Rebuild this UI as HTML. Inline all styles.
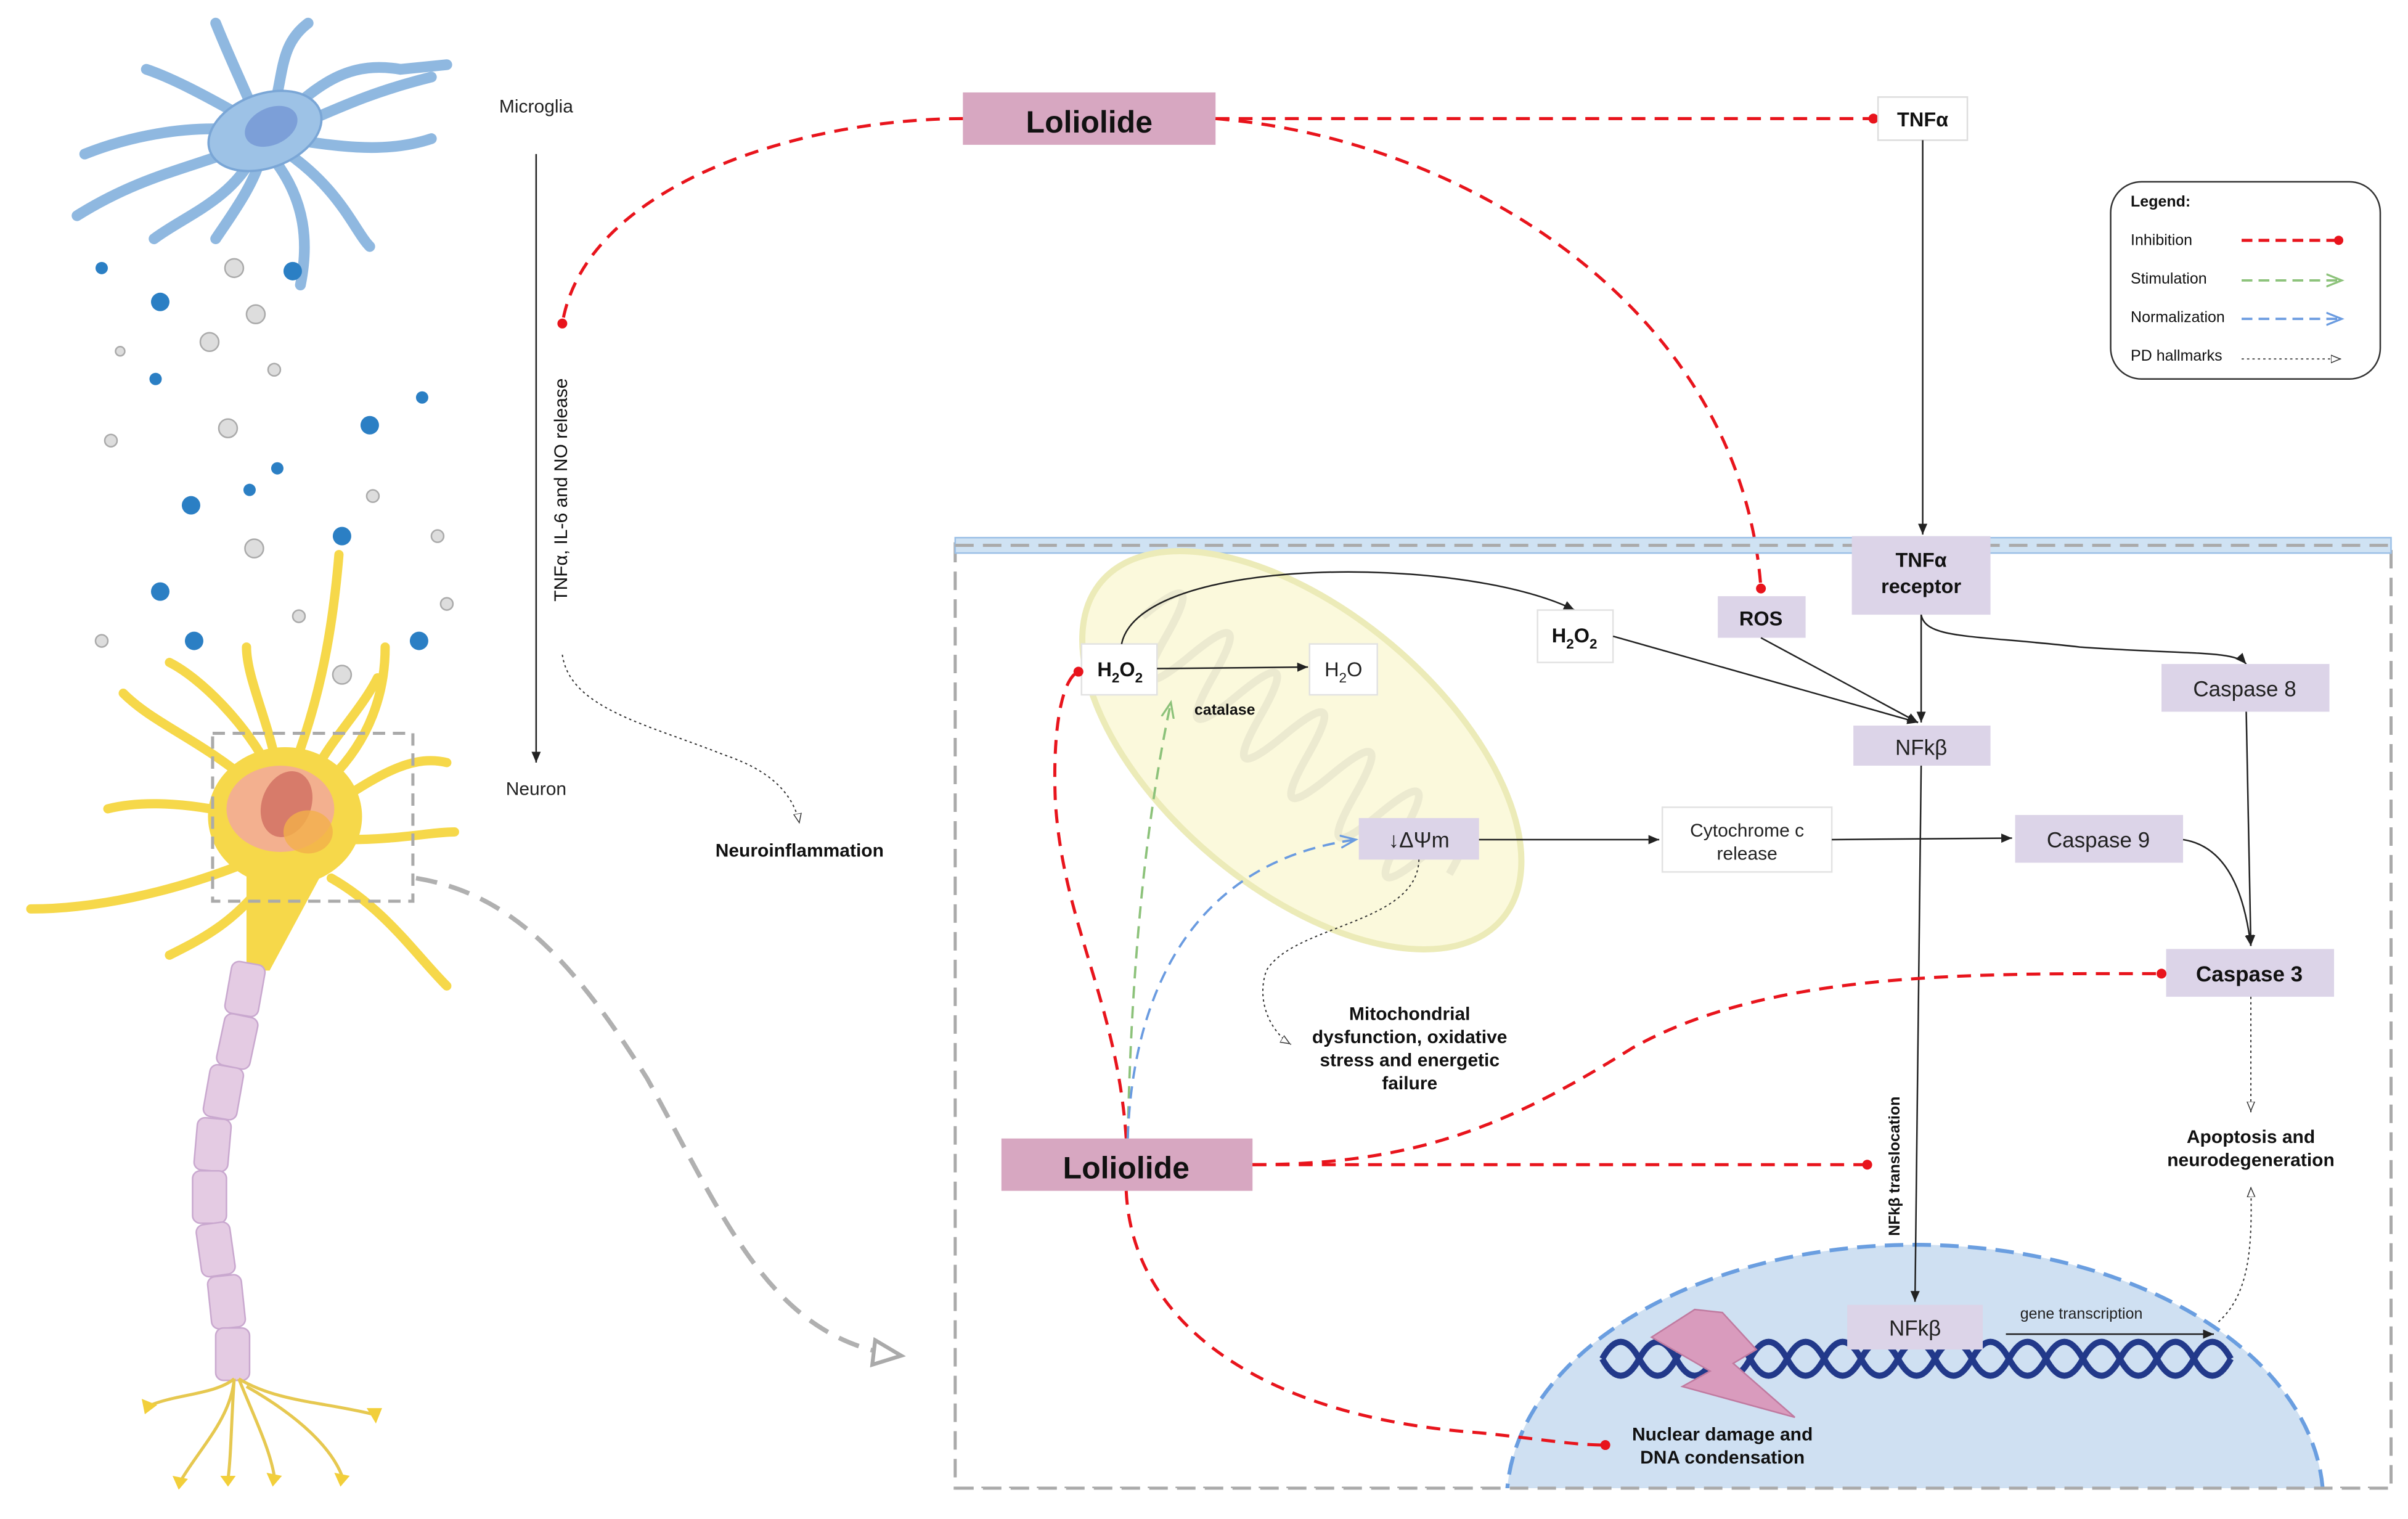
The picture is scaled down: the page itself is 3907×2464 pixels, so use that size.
<!DOCTYPE html>
<html><head><meta charset="utf-8"><style>
html,body{margin:0;padding:0;background:#fff;}
svg{display:block;}
text{font-family:"Liberation Sans",sans-serif;}
</style></head><body>
<svg width="3907" height="2464" viewBox="0 0 1563 986" preserveAspectRatio="none" xmlns="http://www.w3.org/2000/svg">
<defs>
<marker id="ab" markerWidth="8" markerHeight="8" refX="7" refY="4" orient="auto" markerUnits="userSpaceOnUse"><path d="M0,1 L7,4 L0,7 z" fill="#222"/></marker>
<marker id="ad" markerWidth="8" markerHeight="8" refX="7" refY="4" orient="auto" markerUnits="userSpaceOnUse"><path d="M0,1.5 L6,4 L0,6.5 z" fill="#fff" stroke="#333" stroke-width="0.6"/></marker>
<marker id="ag" markerWidth="12" markerHeight="10" refX="10" refY="5" orient="auto" markerUnits="userSpaceOnUse"><path d="M0,1 L10,5 L0,9" fill="none" stroke="#8cc27a" stroke-width="1.3"/></marker>
<marker id="abl" markerWidth="12" markerHeight="10" refX="10" refY="5" orient="auto" markerUnits="userSpaceOnUse"><path d="M0,1 L10,5 L0,9" fill="none" stroke="#6a9be0" stroke-width="1.3"/></marker>
<marker id="agr" markerWidth="24" markerHeight="20" refX="20" refY="10" orient="auto" markerUnits="userSpaceOnUse"><path d="M2,2 L20,10 L2,18 z" fill="#fff" stroke="#aaa" stroke-width="2.5"/></marker>
</defs>

<!-- Microglia -->
<g fill="none" stroke="#8fb8e0" stroke-linecap="round" stroke-linejoin="round">
<g stroke-width="7">
<path d="M170,85 C160,60 150,40 140,15"/><path d="M175,80 C185,50 180,30 200,15"/><path d="M180,80 C210,50 230,40 260,45 L290,42"/>
<path d="M185,85 C220,70 240,60 280,50"/><path d="M185,90 C220,95 250,100 280,90"/><path d="M180,95 C220,120 230,150 240,160"/>
<path d="M175,100 C200,130 200,160 195,185"/><path d="M165,100 C150,130 120,140 100,155"/><path d="M160,95 C120,110 90,115 50,140"/>
<path d="M160,85 C120,80 80,90 55,100"/><path d="M165,80 C130,60 110,50 95,45"/><path d="M170,100 C165,120 150,140 140,155"/>
</g>
</g>
<ellipse cx="172" cy="85" rx="38" ry="24" fill="#9dc2e6" stroke="#7aa6d6" stroke-width="1.5" transform="rotate(-20 172 85)"/>
<ellipse cx="176" cy="82" rx="18" ry="12" fill="#7c9fd8" transform="rotate(-25 176 82)"/>
<g>
<circle cx="104" cy="196" r="6" fill="#2b7fc4"/><circle cx="152" cy="174" r="6" fill="#ddd" stroke="#aaa"/><circle cx="190" cy="176" r="6" fill="#2b7fc4"/>
<circle cx="166" cy="204" r="6" fill="#ddd" stroke="#aaa"/><circle cx="136" cy="222" r="6" fill="#ddd" stroke="#aaa"/><circle cx="66" cy="174" r="4" fill="#2b7fc4"/>
<circle cx="101" cy="246" r="4" fill="#2b7fc4"/><circle cx="148" cy="278" r="6" fill="#ddd" stroke="#aaa"/><circle cx="240" cy="276" r="6" fill="#2b7fc4"/>
<circle cx="124" cy="328" r="6" fill="#2b7fc4"/><circle cx="162" cy="318" r="4" fill="#2b7fc4"/><circle cx="165" cy="356" r="6" fill="#ddd" stroke="#aaa"/>
<circle cx="222" cy="348" r="6" fill="#2b7fc4"/><circle cx="104" cy="384" r="6" fill="#2b7fc4"/><circle cx="126" cy="416" r="6" fill="#2b7fc4"/>
<circle cx="272" cy="416" r="6" fill="#2b7fc4"/><circle cx="222" cy="438" r="6" fill="#ddd" stroke="#aaa"/><circle cx="66" cy="416" r="4" fill="#ddd" stroke="#aaa"/>
<circle cx="78" cy="228" r="3" fill="#ddd" stroke="#aaa"/><circle cx="178" cy="240" r="4" fill="#ddd" stroke="#aaa"/><circle cx="72" cy="286" r="4" fill="#ddd" stroke="#aaa"/>
<circle cx="180" cy="304" r="4" fill="#2b7fc4"/><circle cx="242" cy="322" r="4" fill="#ddd" stroke="#aaa"/><circle cx="284" cy="348" r="4" fill="#ddd" stroke="#aaa"/>
<circle cx="290" cy="392" r="4" fill="#ddd" stroke="#aaa"/><circle cx="194" cy="400" r="4" fill="#ddd" stroke="#aaa"/><circle cx="274" cy="258" r="4" fill="#2b7fc4"/>
</g>
<!-- Neuron dendrites -->
<g fill="none" stroke="#f6d84a" stroke-linecap="round" stroke-linejoin="round" stroke-width="6">
<path d="M190,500 C205,460 215,420 220,360"/><path d="M175,500 C160,470 130,440 110,430"/><path d="M165,510 C130,480 100,470 80,450"/>
<path d="M160,530 C120,520 90,520 70,525"/><path d="M160,560 C110,580 60,590 20,590"/><path d="M215,505 C240,480 250,450 250,420"/>
<path d="M220,520 C250,500 270,490 290,495"/><path d="M225,545 C260,545 280,540 295,540"/><path d="M215,570 C250,590 270,620 290,640"/>
<path d="M180,500 C175,470 160,440 160,420"/><path d="M205,500 C215,480 235,460 245,440"/><path d="M170,575 C150,600 130,610 110,620"/>
</g>
<ellipse cx="185" cy="530" rx="50" ry="45" fill="#f6d84a"/>
<path d="M160,565 L210,565 L175,630 L160,630 Z" fill="#f6d84a"/>
<ellipse cx="182" cy="525" rx="35" ry="28" fill="#f2a6a0" opacity="0.8"/>
<ellipse cx="186" cy="522" rx="16" ry="22" fill="#d77b6a" transform="rotate(20 186 522)"/>
<ellipse cx="200" cy="540" rx="16" ry="14" fill="#f3b04a" opacity="0.8"/>
<rect x="138" y="476" width="130" height="109" fill="none" stroke="#aaa" stroke-width="2" stroke-dasharray="8 5"/>
<g fill="#e4cbe3" stroke="#c9a8cf" stroke-width="1">
<rect x="148" y="625" width="22" height="34" rx="5" transform="rotate(10 159 642)"/>
<rect x="143" y="659" width="22" height="34" rx="5" transform="rotate(12 154 676)"/>
<rect x="134" y="692" width="22" height="34" rx="5" transform="rotate(10 145 709)"/>
<rect x="127" y="726" width="22" height="34" rx="5" transform="rotate(5 138 743)"/>
<rect x="125" y="760" width="22" height="34" rx="5"/>
<rect x="129" y="794" width="22" height="34" rx="5" transform="rotate(-8 140 811)"/>
<rect x="136" y="828" width="22" height="34" rx="5" transform="rotate(-6 147 845)"/>
<rect x="140" y="862" width="22" height="34" rx="5"/>
</g>
<g stroke="#e6c850" stroke-width="2" fill="none">
<path d="M152,895 C140,905 115,905 98,912"/><path d="M152,895 C150,920 130,940 118,960"/><path d="M152,895 C150,925 150,945 148,960"/>
<path d="M155,895 C165,920 175,940 178,958"/><path d="M155,895 C180,910 210,910 242,918"/><path d="M160,900 C195,920 215,940 222,958"/>
</g>
<g fill="#f2cf3a"><path d="M92,908 l10,4 -8,6z"/><path d="M112,958 l10,2 -6,7z"/><path d="M143,958 l10,0 -5,7z"/><path d="M173,956 l10,2 -6,7z"/><path d="M238,914 l10,0 -4,10z"/><path d="M217,956 l10,2 -6,7z"/></g>

<!-- gray dashed curve -->
<path d="M270,570 C330,580 370,620 420,700 C470,790 500,870 585,880" fill="none" stroke="#b0b0b0" stroke-width="3" stroke-dasharray="14 8" marker-end="url(#agr)"/>

<!-- left labels -->
<text x="348" y="73" font-size="12" text-anchor="middle" fill="#222">Microglia</text>
<line x1="348" y1="100" x2="348" y2="495" stroke="#222" stroke-width="1" marker-end="url(#ab)"/>
<text x="348" y="516" font-size="12" text-anchor="middle" fill="#222">Neuron</text>
<text transform="translate(368,318) rotate(-90)" font-size="12" text-anchor="middle" fill="#111">TNFα, IL-6 and NO release</text>
<path d="M365,425 C370,460 420,470 470,490 C500,500 515,515 519,535" fill="none" stroke="#333" stroke-width="0.8" stroke-dasharray="1.5 2" marker-end="url(#ad)"/>
<text x="519" y="556" font-size="12" font-weight="bold" text-anchor="middle" fill="#111">Neuroinflammation</text>

<!-- top Loliolide -->
<rect x="625" y="60" width="164" height="34" fill="#d7a7c1"/>
<text x="707" y="86" font-size="20" font-weight="bold" text-anchor="middle" fill="#111">Loliolide</text>
<path d="M625,77 C520,77 380,120 365,210" fill="none" stroke="#e8141c" stroke-width="2" stroke-dasharray="9 6"/>
<circle cx="365" cy="210" r="3.2" fill="#e8141c"/>
<line x1="789" y1="77" x2="1216" y2="77" stroke="#e8141c" stroke-width="2" stroke-dasharray="9 6"/>
<circle cx="1216" cy="77" r="3.2" fill="#e8141c"/>
<path d="M789,77 C950,90 1130,200 1143,382" fill="none" stroke="#e8141c" stroke-width="2" stroke-dasharray="9 6"/>
<circle cx="1143" cy="382" r="3.2" fill="#e8141c"/>

<!-- TNFa -->
<rect x="1219" y="63" width="58" height="28" fill="#fff" stroke="#ddd"/>
<text x="1248" y="82" font-size="13" font-weight="bold" text-anchor="middle" fill="#111">TNFα</text>
<line x1="1248" y1="91" x2="1248" y2="347" stroke="#222" stroke-width="1" marker-end="url(#ab)"/>

<!-- legend -->
<rect x="1370" y="118" width="175" height="128" rx="20" fill="#fff" stroke="#333" stroke-width="1"/>
<text x="1383" y="134" font-size="10" font-weight="bold" fill="#111">Legend:</text>
<text x="1383" y="159" font-size="10" fill="#111">Inhibition</text>
<text x="1383" y="184" font-size="10" fill="#111">Stimulation</text>
<text x="1383" y="209" font-size="10" fill="#111">Normalization</text>
<text x="1383" y="234" font-size="10" fill="#111">PD hallmarks</text>
<line x1="1455" y1="156" x2="1516" y2="156" stroke="#e8141c" stroke-width="2" stroke-dasharray="7 4"/><circle cx="1518" cy="156" r="3" fill="#e8141c"/>
<line x1="1455" y1="182" x2="1520" y2="182" stroke="#8cc27a" stroke-width="1.5" stroke-dasharray="7 4" marker-end="url(#ag)"/>
<line x1="1455" y1="207" x2="1520" y2="207" stroke="#6a9be0" stroke-width="1.5" stroke-dasharray="7 4" marker-end="url(#abl)"/>
<line x1="1455" y1="233" x2="1520" y2="233" stroke="#333" stroke-width="0.7" stroke-dasharray="1.5 2" marker-end="url(#ad)"/>

<!-- cell box -->
<rect x="620" y="353" width="932" height="613" fill="none" stroke="#aaa" stroke-width="2" stroke-dasharray="12 6"/>
<rect x="620" y="349" width="932" height="10" fill="#cfe2f3" stroke="#9cc0e6" stroke-width="1"/>
<line x1="620" y1="354" x2="1552" y2="354" stroke="#aaa" stroke-width="2" stroke-dasharray="12 6"/>

<!-- nucleus -->
<path d="M978,975 A265,167 0 0 1 1508,975 Z" fill="#cfe0f2"/>
<path d="M978,975 A265,167 0 0 1 1508,975" fill="none" stroke="#6a9ee0" stroke-width="2.5" stroke-dasharray="12 6"/>
<rect x="620" y="966" width="932" height="20" fill="#fff"/>
<line x1="620" y1="966" x2="1552" y2="966" stroke="#aaa" stroke-width="2" stroke-dasharray="12 6"/>
<!-- DNA -->
<g fill="none" stroke="#22398a" stroke-width="4">
<path d="M1040,882 q12,-22 24,0 t24,0 t24,0 t24,0 t24,0 t24,0 t24,0 t24,0 t24,0 t24,0 t24,0 t24,0 t24,0 t24,0 t24,0 t24,0 t24,0"/>
<path d="M1040,882 q12,22 24,0 t24,0 t24,0 t24,0 t24,0 t24,0 t24,0 t24,0 t24,0 t24,0 t24,0 t24,0 t24,0 t24,0 t24,0 t24,0 t24,0"/>
</g>
<path d="M1100,850 L1072,868 L1110,890 L1092,900 L1165,920 L1125,885 L1140,876 L1118,852 Z" fill="#d99bbd" stroke="#c07aa0" stroke-width="1"/>
<rect x="1199" y="847" width="88" height="29" fill="#dcd4e8"/>
<text x="1243" y="867" font-size="14" text-anchor="middle" fill="#222">NFkβ</text>
<text x="1351" y="856" font-size="10" text-anchor="middle" fill="#222">gene transcription</text>
<line x1="1302" y1="866" x2="1437" y2="866" stroke="#222" stroke-width="1" marker-end="url(#ab)"/>
<text x="1118" y="935" font-size="12" font-weight="bold" text-anchor="middle" fill="#111">Nuclear damage and</text>
<text x="1118" y="950" font-size="12" font-weight="bold" text-anchor="middle" fill="#111">DNA condensation</text>

<!-- mitochondria -->
<g transform="rotate(40 845 487)">
<ellipse cx="845" cy="487" rx="170" ry="90" fill="#fbf9dc" stroke="#ecebb8" stroke-width="4"/>
<path d="M710,487 q10,-55 20,0 t20,0 t20,0 t20,0 t20,0 t20,0 t20,0 t20,0 t20,0 t20,0 t20,0 t20,0 t20,0" fill="none" stroke="#ecead0" stroke-width="5"/>
</g>
<rect x="702" y="418" width="49" height="33" fill="#fff" stroke="#e2e2e2"/>
<text x="727" y="439" font-size="13" font-weight="bold" text-anchor="middle" fill="#111">H<tspan font-size="9" dy="4">2</tspan><tspan dy="-4">O</tspan><tspan font-size="9" dy="4">2</tspan></text>
<rect x="850" y="418" width="44" height="33" fill="#fff" stroke="#e2e2e2"/>
<text x="872" y="439" font-size="13" text-anchor="middle" fill="#222">H<tspan font-size="9" dy="4">2</tspan><tspan dy="-4">O</tspan></text>
<line x1="751" y1="434" x2="849" y2="433" stroke="#222" stroke-width="1" marker-end="url(#ab)"/>
<text x="795" y="464" font-size="10" font-weight="bold" text-anchor="middle" fill="#111">catalase</text>
<path d="M728,418 C740,360 950,360 1022,396" fill="none" stroke="#222" stroke-width="1" marker-end="url(#ab)"/>
<rect x="998" y="396" width="49" height="34" fill="#fff" stroke="#e2e2e2"/>
<text x="1022" y="417" font-size="13" font-weight="bold" text-anchor="middle" fill="#111">H<tspan font-size="9" dy="4">2</tspan><tspan dy="-4">O</tspan><tspan font-size="9" dy="4">2</tspan></text>
<rect x="882" y="531" width="78" height="27" fill="#dcd4e8"/>
<text x="921" y="550" font-size="14" text-anchor="middle" fill="#222">↓ΔΨm</text>

<!-- receptor etc -->
<rect x="1202" y="348" width="90" height="51" fill="#dcd4e8"/>
<text x="1247" y="368" font-size="13" font-weight="bold" text-anchor="middle" fill="#111">TNFα</text>
<text x="1247" y="385" font-size="13" font-weight="bold" text-anchor="middle" fill="#111">receptor</text>
<rect x="1115" y="387" width="57" height="27" fill="#dcd4e8"/>
<text x="1143" y="406" font-size="13" font-weight="bold" text-anchor="middle" fill="#111">ROS</text>
<rect x="1203" y="471" width="89" height="26" fill="#dcd4e8"/>
<text x="1247" y="490" font-size="14" text-anchor="middle" fill="#222">NFkβ</text>
<line x1="1247" y1="399" x2="1247" y2="469" stroke="#222" stroke-width="1" marker-end="url(#ab)"/>
<line x1="1047" y1="413" x2="1245" y2="469" stroke="#222" stroke-width="1" marker-end="url(#ab)"/>
<line x1="1143" y1="414" x2="1245" y2="469" stroke="#222" stroke-width="1" marker-end="url(#ab)"/>
<path d="M1247,399 C1250,415 1280,412 1350,420 C1420,425 1450,422 1458,431" fill="none" stroke="#222" stroke-width="1" marker-end="url(#ab)"/>
<rect x="1403" y="431" width="109" height="31" fill="#dcd4e8"/>
<text x="1457" y="452" font-size="14" text-anchor="middle" fill="#222">Caspase 8</text>
<rect x="1079" y="524" width="110" height="42" fill="#fff" stroke="#e2e2e2"/>
<text x="1134" y="543" font-size="12" text-anchor="middle" fill="#222">Cytochrome c</text>
<text x="1134" y="558" font-size="12" text-anchor="middle" fill="#222">release</text>
<line x1="960" y1="545" x2="1077" y2="545" stroke="#222" stroke-width="1" marker-end="url(#ab)"/>
<line x1="1189" y1="545" x2="1306" y2="544" stroke="#222" stroke-width="1" marker-end="url(#ab)"/>
<rect x="1308" y="529" width="109" height="31" fill="#dcd4e8"/>
<text x="1362" y="550" font-size="14" text-anchor="middle" fill="#222">Caspase 9</text>
<rect x="1406" y="616" width="109" height="31" fill="#dcd4e8"/>
<text x="1460" y="637" font-size="14" font-weight="bold" text-anchor="middle" fill="#111">Caspase 3</text>
<line x1="1458" y1="462" x2="1461" y2="614" stroke="#222" stroke-width="1" marker-end="url(#ab)"/>
<path d="M1417,545 C1450,550 1458,590 1461,614" fill="none" stroke="#222" stroke-width="1" marker-end="url(#ab)"/>
<line x1="1461" y1="647" x2="1461" y2="722" stroke="#333" stroke-width="0.8" stroke-dasharray="1.5 2" marker-end="url(#ad)"/>
<text x="1461" y="742" font-size="12" font-weight="bold" text-anchor="middle" fill="#111">Apoptosis and</text>
<text x="1461" y="757" font-size="12" font-weight="bold" text-anchor="middle" fill="#111">neurodegeneration</text>
<path d="M1440,858 C1460,840 1462,810 1461,770" fill="none" stroke="#333" stroke-width="0.8" stroke-dasharray="1.5 2" marker-end="url(#ad)"/>
<line x1="1247" y1="497" x2="1243" y2="845" stroke="#222" stroke-width="1" marker-end="url(#ab)"/>
<text transform="translate(1233,757) rotate(-90)" font-size="10" font-weight="bold" text-anchor="middle" fill="#111">NFkβ translocation</text>

<!-- mito dysfunction -->
<path d="M921,558 C920,600 840,600 822,630 C815,650 825,670 838,678" fill="none" stroke="#333" stroke-width="0.8" stroke-dasharray="1.5 2" marker-end="url(#ad)"/>
<text x="915" y="662" font-size="12" font-weight="bold" text-anchor="middle" fill="#111">Mitochondrial</text>
<text x="915" y="677" font-size="12" font-weight="bold" text-anchor="middle" fill="#111">dysfunction, oxidative</text>
<text x="915" y="692" font-size="12" font-weight="bold" text-anchor="middle" fill="#111">stress and energetic</text>
<text x="915" y="707" font-size="12" font-weight="bold" text-anchor="middle" fill="#111">failure</text>

<!-- bottom Loliolide and its connectors -->
<path d="M731,739 C725,650 690,600 685,520 C683,470 690,440 700,436" fill="none" stroke="#e8141c" stroke-width="2" stroke-dasharray="9 6"/>
<circle cx="700" cy="436" r="3.2" fill="#e8141c"/>
<path d="M732,739 C734,640 742,540 760,456" fill="none" stroke="#8cc27a" stroke-width="1.5" stroke-dasharray="8 5" marker-end="url(#ag)"/>
<path d="M732,739 C735,650 770,560 880,545" fill="none" stroke="#6a9be0" stroke-width="1.5" stroke-dasharray="8 5" marker-end="url(#abl)"/>
<rect x="650" y="739" width="163" height="34" fill="#d7a7c1"/>
<text x="731" y="765" font-size="20" font-weight="bold" text-anchor="middle" fill="#111">Loliolide</text>
<line x1="813" y1="756" x2="1212" y2="756" stroke="#e8141c" stroke-width="2" stroke-dasharray="9 6"/>
<circle cx="1212" cy="756" r="3.2" fill="#e8141c"/>
<path d="M813,756 C920,756 980,730 1060,680 C1150,630 1280,632 1403,632" fill="none" stroke="#e8141c" stroke-width="2" stroke-dasharray="9 6"/>
<circle cx="1403" cy="632" r="3.2" fill="#e8141c"/>
<path d="M731,773 C735,860 820,920 960,930 C1000,934 1020,938 1042,938" fill="none" stroke="#e8141c" stroke-width="2" stroke-dasharray="9 6"/>
<circle cx="1042" cy="938" r="3.2" fill="#e8141c"/>
</svg>
</body></html>
